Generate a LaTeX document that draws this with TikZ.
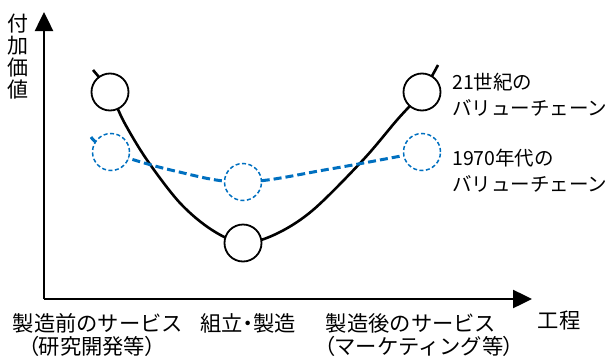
\documentclass[tikz,border=0pt]{standalone}
\usepackage{fontspec}
\setmainfont{Noto Sans CJK JP}
\newfontfamily\paltfont[RawFeature=+palt]{Noto Sans CJK JP}
\usetikzlibrary{arrows.meta}
\definecolor{vblue}{RGB}{0,112,192}
\begin{document}
\begin{tikzpicture}[x=1pt,y=-1pt,
  axis/.style={line width=2.5pt, -{Triangle[length=19pt,width=18pt]}},
  newcurve/.style={line width=2.6pt},
  oldcurve/.style={line width=3pt, vblue, dash pattern=on 8pt off 4pt},
  bigdot/.style={circle, draw, fill=white, line width=1.8pt, minimum size=37pt, inner sep=0pt},
  olddot/.style={circle, draw=vblue, fill=white, line width=1.5pt, dash pattern=on 4pt off 2.5pt, minimum size=37pt, inner sep=0pt},
  rlbl/.style={font=\fontsize{19.5}{22}\selectfont, inner sep=0pt, anchor=west},
  blbl/.style={font=\fontsize{21.3}{22}\selectfont, inner sep=0pt},
  vlbl/.style={font=\fontsize{21}{22}\selectfont, inner sep=0pt, align=center}
]
\useasboundingbox (0,0) rectangle (611,362);
% axes
\coordinate (O) at (44,299);
\coordinate (ytip) at (44,12);
\coordinate (xtip) at (532,299);
\draw[axis] (O) -- (ytip);
\draw[axis] (O) -- (xtip);
% 21st century curve
\draw[newcurve] plot[smooth, tension=0.55] coordinates {(93,70) (110,92) (124,122) (147,160) (180,203) (212,230) (243,243) (276,234) (313,210) (363,160) (397,120) (422,92) (438,65)};
% 1970s curve
\draw[oldcurve] plot[smooth, tension=0.6] coordinates {(91,137) (111,152) (175,171) (243,182) (330,169) (422,152)};
% circles
\node[bigdot] (n1) at (110,92) {};
\node[bigdot] (n2) at (243,243) {};
\node[bigdot] (n3) at (422,92) {};
\node[olddot] (o1) at (111,152) {};
\node[olddot] (o2) at (243,182) {};
\node[olddot] (o3) at (422,152) {};
% labels
\node[vlbl] (ylab) at (18,57) {付\\加\\価\\値};
\node[rlbl] (l21a) at (452,82) {21世紀の};
\node[rlbl] (l21b) at (452,108) {バリューチェーン};
\node[rlbl] (l70a) at (452,158) {1970年代の};
\node[rlbl] (l70b) at (452,184) {バリューチェーン};
\node[blbl] (b1a) at (98,323) {製造前のサービス};
\node[blbl] (b1b) at (92,346) {{\paltfont （}研究開発等{\paltfont ）}};
\node[blbl] (b2) at (248,323) {組立{\paltfont ・}製造};
\node[blbl] (b3a) at (411,323) {製造後のサービス};
\node[blbl] (b3b) at (419,346) {{\paltfont （}マーケティング等{\paltfont ）}};
\node[blbl] (xlab) at (559,321) {工程};
\end{tikzpicture}
\end{document}
